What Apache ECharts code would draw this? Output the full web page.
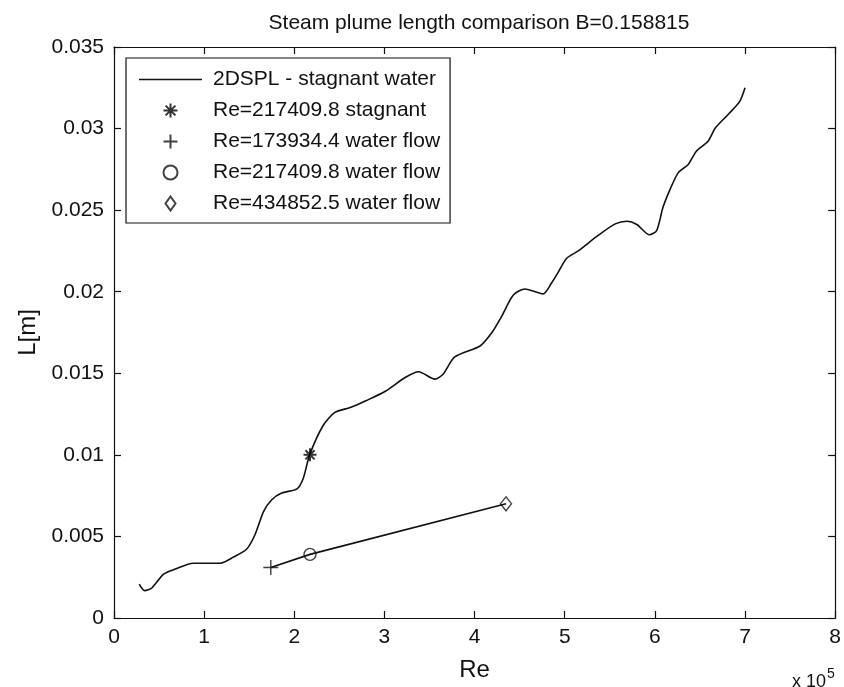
<!DOCTYPE html>
<html>
<head>
<meta charset="utf-8">
<title>Steam plume length comparison</title>
<script src="https://cdn.jsdelivr.net/npm/echarts@6/dist/echarts.min.js"></script>
<style>
  html, body { margin: 0; padding: 0; background: #fff; }
  #main { width: 844px; height: 687px; }
</style>
</head>
<body>
<div id="main"></div>
<script>
// 2DSPL curve, stagnant water (Re in units of 1e5)
var curveRe = [0.28, 0.34, 0.42, 0.55, 0.68, 0.88, 1.18, 1.33, 1.47, 1.565, 1.66, 1.75, 1.86, 2.03, 2.10, 2.17,
  2.32, 2.45, 2.62, 2.80, 3.01, 3.23, 3.38, 3.56, 3.65, 3.78, 4.06, 4.19, 4.30, 4.43, 4.56, 4.76, 4.85, 4.93,
  5.02, 5.15, 5.37, 5.56, 5.69, 5.80, 5.94, 6.02, 6.09, 6.17, 6.26, 6.37, 6.46, 6.59, 6.67, 6.81, 6.94, 7.00];
var curveL = [0.00208, 0.00168, 0.00184, 0.00269, 0.0030, 0.00336, 0.00336, 0.00375, 0.00421, 0.00512, 0.00654, 0.00725, 0.00766, 0.00792, 0.00857, 0.0100,
  0.0118, 0.0126, 0.0129, 0.01333, 0.0139, 0.01474, 0.01509, 0.01464, 0.01494, 0.0160, 0.01667, 0.01748, 0.01849, 0.0198, 0.02017, 0.01987, 0.0205, 0.02122,
  0.02204, 0.0225, 0.02345, 0.02416, 0.02432, 0.02412, 0.02349, 0.02375, 0.02517, 0.02629, 0.0273, 0.0278, 0.02861, 0.02922, 0.03003, 0.03085, 0.03165, 0.0325];

// measured points
var stagRe = [217409.8];
var stagL = [0.0100];
var flowRe = [173934.4, 217409.8, 434852.5];
var flowL = [0.0031, 0.0039, 0.0070];

var legendNames = ['2DSPL - stagnant water', 'Re=217409.8 stagnant', 'Re=173934.4 water flow',
  'Re=217409.8 water flow', 'Re=434852.5 water flow'];
var xTicks = [0, 1, 2, 3, 4, 5, 6, 7, 8];

var FONT = "'Liberation Sans', Arial, sans-serif";
var INK = '#111';

var starPath = 'path://M5,0L5,10M0,5L10,5M1.5,1.5L8.5,8.5M8.5,1.5L1.5,8.5';
var plusPath = 'path://M5,0L5,10M0,5L10,5';
var diamondPath = 'path://M5,0L10,7L5,14L0,7Z';
var linePath = 'path://M0,0L63,0L63,1.4L0,1.4Z';

function zip(xs, ys, scale) {
  var out = [];
  for (var i = 0; i < xs.length; i++) out.push([xs[i] / scale, ys[i]]);
  return out;
}

var hollow = { color: 'rgba(0,0,0,0)', borderColor: INK, borderWidth: 1.4 };

var myChart = echarts.init(document.getElementById('main'));

var axisCommon = {
  axisLine: { show: true, onZero: false, lineStyle: { color: INK, width: 1.2 } },
  axisTick: { show: true, inside: true, length: 7, lineStyle: { color: INK, width: 1.2 } },
  splitLine: { show: false }
};

var option = {
  animation: false,
  backgroundColor: '#fff',
  title: {
    text: 'Steam plume length comparison B=0.158815',
    left: 474,
    top: 8,
    textAlign: 'center',
    textStyle: { fontFamily: FONT, fontSize: 21, fontWeight: 'normal', color: INK }
  },
  grid: { left: 114, right: 5, top: 47, bottom: 67 },
  legend: {
    orient: 'vertical',
    left: 126,
    top: 58,
    data: [
      { name: legendNames[0], icon: linePath, itemStyle: { color: INK, borderWidth: 0 } },
      { name: legendNames[1] },
      { name: legendNames[2] },
      { name: legendNames[3] },
      { name: legendNames[4], icon: diamondPath }
    ],
    itemWidth: 63,
    itemHeight: 14,
    itemGap: 10,
    padding: [11, 10, 9, 13],
    borderColor: INK,
    borderWidth: 1.2,
    backgroundColor: '#fff',
    selectedMode: false,
    textStyle: { fontFamily: FONT, fontSize: 21, color: INK, lineHeight: 20, padding: [0, 0, 0, 6] }
  },
  xAxis: [
    Object.assign({}, axisCommon, {
      type: 'value', position: 'bottom', min: 0, max: 8, interval: 1,
      name: 'Re', nameLocation: 'middle', nameGap: 40,
      nameTextStyle: { fontFamily: FONT, fontSize: 24, color: INK },
      axisLabel: {
        fontFamily: FONT, fontSize: 21, color: INK, margin: 9,
        formatter: function (v) { return xTicks.indexOf(v) >= 0 ? String(v) : ''; }
      }
    }),
    Object.assign({}, axisCommon, {
      type: 'value', position: 'top', min: 0, max: 8, interval: 1, axisLabel: { show: false }
    })
  ],
  yAxis: [
    Object.assign({}, axisCommon, {
      type: 'value', position: 'left', min: 0, max: 0.035, interval: 0.005,
      name: 'L[m]', nameLocation: 'middle', nameGap: 57, nameRotate: 90,
      nameTextStyle: { fontFamily: FONT, fontSize: 24, color: INK },
      axisLabel: {
        fontFamily: FONT, fontSize: 21, color: INK, margin: 10,
        formatter: function (v) { return String(+v.toFixed(3)); }
      }
    }),
    Object.assign({}, axisCommon, {
      type: 'value', position: 'right', min: 0, max: 0.035, interval: 0.005, axisLabel: { show: false }
    })
  ],
  graphic: [{
    type: 'text',
    left: 792,
    top: 667,
    style: {
      text: '{a|x 10}{b|5}',
      rich: {
        a: { fontFamily: FONT, fontSize: 18, fill: INK, verticalAlign: 'bottom' },
        b: { fontFamily: FONT, fontSize: 14, fill: INK, verticalAlign: 'top', padding: [0, 0, 10, 1] }
      }
    }
  }],
  series: [
    {
      name: legendNames[0],
      type: 'line',
      data: zip(curveRe, curveL, 1),
      symbol: 'none',
      smooth: 0.25,
      lineStyle: { color: INK, width: 1.6 },
      itemStyle: { color: INK }
    },
    {
      name: 'flow line',
      type: 'line',
      data: zip(flowRe, flowL, 1e5),
      symbol: 'none',
      lineStyle: { color: INK, width: 1.6 }
    },
    {
      name: legendNames[1],
      type: 'scatter',
      data: zip(stagRe, stagL, 1e5),
      symbol: starPath,
      symbolSize: 13,
      itemStyle: { color: 'rgba(0,0,0,0)', borderColor: '#000', borderWidth: 2 },
      z: 3
    },
    {
      name: legendNames[2],
      type: 'scatter',
      data: zip(flowRe.slice(0, 1), flowL.slice(0, 1), 1e5),
      symbol: plusPath,
      symbolSize: 15,
      itemStyle: hollow,
      z: 3
    },
    {
      name: legendNames[3],
      type: 'scatter',
      data: zip(flowRe.slice(1, 2), flowL.slice(1, 2), 1e5),
      symbol: 'circle',
      symbolSize: 12,
      itemStyle: hollow,
      z: 3
    },
    {
      name: legendNames[4],
      type: 'scatter',
      data: zip(flowRe.slice(2, 3), flowL.slice(2, 3), 1e5),
      symbol: diamondPath,
      symbolSize: [11, 14],
      itemStyle: hollow,
      z: 3
    }
  ]
};

myChart.setOption(option);
</script>
</body>
</html>
